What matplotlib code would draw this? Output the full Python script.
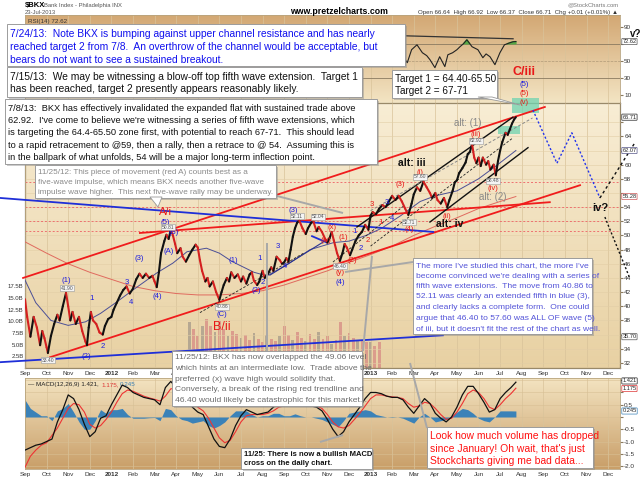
import numpy as np
import matplotlib
matplotlib.use("Agg")
import matplotlib.pyplot as plt
from matplotlib.colors import LinearSegmentedColormap
from matplotlib.collections import LineCollection
from matplotlib.patches import Rectangle, Polygon

plt.rcParams["font.family"] = ["Liberation Sans", "DejaVu Sans"]

W, H = 640, 479

# x positions are months since 1 Sep 2011
month_labels = ["Sep", "Oct", "Nov", "Dec", "2012", "Feb", "Mar", "Apr", "May", "Jun",
                "Jul", "Aug", "Sep", "Oct", "Nov", "Dec", "2013", "Feb", "Mar", "Apr",
                "May", "Jun", "Jul", "Aug", "Sep", "Oct", "Nov", "Dec"]

# --- BKX closes ---
price_m = [0.0, 0.1, 0.25, 0.4, 0.55, 0.7, 0.8, 0.9,
           1.0, 1.06, 1.2, 1.35, 1.5, 1.6, 1.75, 1.9,
           2.0, 2.1, 2.2, 2.35, 2.5, 2.65, 2.8, 2.87, 2.95,
           3.05, 3.15, 3.3, 3.45, 3.6, 3.7, 3.85,
           4.0, 4.1, 4.25, 4.4, 4.55, 4.7, 4.85,
           5.0, 5.15, 5.3, 5.45, 5.6, 5.75, 5.9,
           6.0, 6.1, 6.2, 6.3, 6.45, 6.55, 6.65, 6.75, 6.85, 6.95,
           7.05, 7.2, 7.3, 7.45, 7.6, 7.75, 7.9,
           8.0, 8.1, 8.2, 8.35, 8.45, 8.55, 8.7, 8.85,
           9.0, 9.1, 9.2, 9.35, 9.45, 9.55, 9.7, 9.85,
           10.0, 10.1, 10.25, 10.4, 10.5, 10.6, 10.75, 10.85,
           11.0, 11.1, 11.25, 11.4, 11.5, 11.65, 11.8, 11.9,
           12.0, 12.1, 12.2, 12.3, 12.4, 12.5, 12.6, 12.7, 12.85,
           13.0, 13.1, 13.25, 13.35, 13.5, 13.6, 13.75, 13.9,
           14.0, 14.1, 14.2, 14.3, 14.45, 14.58, 14.7, 14.8, 14.9,
           15.05, 15.15, 15.3, 15.45, 15.6, 15.75, 15.9,
           16.0, 16.1, 16.25, 16.4, 16.55, 16.7, 16.85,
           17.0, 17.15, 17.3, 17.45, 17.6, 17.75, 17.9,
           18.0, 18.15, 18.3, 18.45, 18.6, 18.75, 18.85,
           19.0, 19.1, 19.25, 19.4, 19.55, 19.65, 19.8, 19.9,
           20.0, 20.1, 20.25, 20.4, 20.5, 20.6, 20.7, 20.8, 20.9,
           21.0, 21.1, 21.2, 21.35, 21.45, 21.55, 21.7, 21.8, 21.9,
           22.0, 22.1, 22.25, 22.35, 22.45, 22.55, 22.65, 22.73]
price_close = [41.0, 38.5, 35.7, 38.5, 37.0, 34.5, 36.5, 35.5,
               34.2, 33.4, 35.8, 37.5, 38.8, 38.0, 40.0, 41.9,
               40.0, 38.0, 39.2, 37.5, 38.5, 36.5, 35.0, 34.5, 37.0,
               39.2, 38.0, 37.5, 36.3, 36.0, 37.2, 38.2,
               38.5, 39.5, 40.5, 41.5, 42.3, 42.8, 41.8,
               42.5, 43.8, 44.6, 44.0, 44.6, 44.0, 44.3,
               43.5, 42.7, 44.8, 47.5, 49.2, 50.1, 49.5, 50.8, 50.0, 48.8,
               47.5, 48.2, 47.0, 46.3, 47.2, 48.0, 48.7,
               48.3, 46.5, 45.0, 43.5, 44.0, 42.8, 43.5, 42.0,
               40.9, 42.0, 43.0, 44.0, 43.5, 44.8, 44.0, 44.5,
               43.5, 44.2, 43.2, 44.5, 44.8, 43.6, 43.0, 43.5,
               45.0, 44.0, 44.6, 45.5, 45.0, 47.0, 46.5, 46.0,
               46.2, 46.8, 46.3, 48.0, 49.8, 51.0, 51.8, 52.1, 51.0,
               50.2, 51.0, 51.8, 52.0, 50.6, 51.2, 50.5, 49.5,
               49.0, 49.6, 50.5, 49.3, 47.5, 46.4, 47.5, 48.8, 48.3,
               47.2, 48.0, 49.2, 50.0, 50.5, 51.5, 50.8,
               52.8, 53.3, 53.0, 53.8, 54.3, 54.0, 54.8,
               55.6, 55.0, 55.6, 54.8, 53.8, 52.9, 54.5,
               55.8, 56.8, 56.3, 57.6, 56.8, 56.0, 55.3,
               56.0, 55.0, 54.5, 55.3, 54.0, 55.0, 56.3, 57.5,
               57.8, 58.8, 59.5, 60.3, 61.5, 61.8, 62.9, 61.0, 60.2,
               61.0, 59.8, 61.0, 60.0, 60.5, 59.3, 60.0, 58.5, 60.5,
               62.0, 63.2, 64.5, 64.2, 65.0, 65.8, 66.4, 66.71]

ma50_m = [0, 0.5, 1.2, 2.0, 2.8, 3.5, 4.2, 5.0, 6.1, 6.85, 7.5, 8.4, 9.0, 9.6, 10.6,
          11.2, 12.1, 13.2, 14.3, 15.0, 15.8, 16.5, 17.4, 18.3, 19.0, 20.0, 21.0, 21.8, 22.73]
ma50 = [43.7, 40.5, 38.0, 37.3, 37.8, 39.0, 40.5, 42.3, 44.7, 46.1, 47.7, 48.2, 47.5, 46.3, 44.8,
        44.3, 45.8, 48.0, 49.0, 49.2, 50.0, 51.0, 52.8, 54.8, 55.6, 56.3, 58.0, 59.8, 62.0]
ma200_m = [0, 1, 2, 3, 4, 5, 6, 7, 8, 9, 10, 11, 12, 13, 14, 15, 16, 17, 18, 19, 20, 21, 22, 22.73]
ma200 = [49.1, 47.5, 46.0, 44.8, 43.8, 42.8, 42.2, 41.8, 41.6, 41.6, 41.8, 42.2, 43.0, 44.0,
         45.0, 46.2, 47.3, 48.5, 50.0, 51.3, 52.5, 53.8, 54.8, 55.5]

# volume (billions), only a window of data exists on this chart
vol_m = [7.6, 7.8, 8.0, 8.2, 8.4, 8.6, 8.8, 9.0, 9.2, 9.4, 9.6, 9.8, 10.0, 10.2, 10.4,
         10.6, 10.8, 11.0, 11.2, 11.4, 11.6, 11.8, 12.0, 12.2, 12.4, 12.6, 12.8, 13.0,
         13.2, 13.4, 13.6, 13.8, 14.0, 14.2, 14.4, 14.6, 14.8, 15.0, 15.2, 15.4, 15.6,
         15.8, 16.0, 16.2, 16.4]
vol_b = [9.8, 8.3, 6.9, 9.0, 10.5, 9.0, 7.7, 10.0, 8.3, 6.9, 8.0, 7.3, 6.5, 7.0, 6.0,
         7.5, 6.2, 5.5, 7.0, 6.3, 5.8, 6.8, 9.0, 7.0, 6.0, 7.8, 6.5, 5.8,
         7.2, 6.3, 7.7, 6.2, 6.8, 5.2, 6.0, 9.8, 6.9, 7.5, 6.4, 5.8, 6.0,
         5.5, 5.6, 4.8, 5.6]

# RSI(14), visible part only
rsi_m = [17.2, 17.36, 17.5, 17.7, 17.9, 18.15, 18.4, 18.6, 18.75, 18.98, 19.2, 19.44, 19.58,
         19.8, 20.0, 20.14, 20.3, 20.46, 20.7, 20.97, 21.2, 21.35, 21.53, 21.76, 21.99,
         22.2, 22.45, 22.6, 22.73]
rsi = [58, 63, 55, 47.6, 63, 68.8, 59.4, 56, 51.2, 41.8, 54.7, 43, 57,
       59.4, 63, 66.5, 70, 74.7, 66.5, 63, 53.5, 58, 54.7, 45.3, 59.4,
       68.8, 71.2, 72.4, 72.6]
rsi_trend = [(17.6, 79.4), (22.6, 75.9)]

# MACD(12,26,9) read on a quarter-month grid
macd_m = list(np.arange(0, 22.51, 0.25)) + [22.73]
macd_line = [-1.35, -1.25, -1.15, -1.1, -1.0, -0.9, -0.2, 0.3, 0.9, 0.75, 0.3, -0.3,
             -0.8, -0.6, -0.05, 0.05, 0.5, 0.9, 1.3, 1.2, 1.0, 0.9, 0.8, 0.75,
             0.7, 0.5, 1.2, 1.45, 1.2, 0.95, 0.75, 0.4, 0.2, 0.1, -0.4, -0.9,
             -1.2, -1.25, -0.9, -0.35, 0.05, 0.3, 0.2, 0.1, 0.15, 0.2, 0.4, 0.55,
             0.5, 0.55, 0.65, 0.55, 0.45, 0.45, 0.4, 0.25, -0.1, -0.5, -0.8, -0.6,
             -0.2, 0.1, 0.4, 0.75, 1.0, 1.0, 0.95, 0.85, 0.8, 0.8, 0.7, 0.4,
             0.15, 0.45, 0.75, 0.55, 0.15, -0.05, -0.2, 0.0, 0.4, 0.9, 1.25, 1.25,
             0.95, 0.6, 0.2, 0.3, 0.75, 1.0, 1.2, 1.42]
signal_line = [-2.05, -1.6, -1.35, -1.15, -1.05, -0.75, -0.45, -0.05, 0.35, 0.55, 0.5, 0.2,
               -0.3, -0.45, -0.35, -0.1, 0.2, 0.6, 0.95, 1.1, 1.05, 0.95, 0.85, 0.78,
               0.72, 0.65, 0.85, 1.15, 1.15, 1.05, 0.9, 0.65, 0.4, 0.25, -0.05, -0.45,
               -0.85, -1.05, -0.95, -0.6, -0.2, 0.05, 0.1, 0.1, 0.1, 0.15, 0.25, 0.4,
               0.45, 0.5, 0.52, 0.5, 0.45, 0.45, 0.45, 0.35, 0.1, -0.2, -0.4, -0.45,
               -0.35, -0.1, 0.15, 0.45, 0.75, 0.9, 0.9, 0.85, 0.82, 0.8, 0.75, 0.55,
               0.4, 0.45, 0.6, 0.55, 0.35, 0.1, -0.1, -0.05, 0.2, 0.55, 0.95, 1.1,
               1.0, 0.75, 0.4, 0.3, 0.5, 0.75, 0.95, 1.175]

# trendlines drawn on the chart: (month, price) end points
red_lines = [[(-0.09, 44.0), (24.07, 68.15)],
             [(1.16, 32.8), (25.7, 57.1)],
             [(5.32, 50.35), (24.3, 54.7)]]
blue_lines = [[(-1.16, 55.3), (18.9, 50.5)],
              [(-1.16, 32.1), (19.35, 35.9)],
              [(13.29, 49.9), (13.98, 49.0)]]
navy_lines = [[(11.34, 44.4), (13.98, 49.4)]]
black_lines = [[(15.37, 51.2), (22.59, 66.7)],
               [(18.75, 51.9), (23.29, 62.4)]]
dashed_lines = [[(8.1, 39.1), (12.9, 47.5)],
                [(14.26, 46.25), (17.59, 54.3)],
                [(16.0, 48.5), (22.6, 63.8)]]
gray_dashed = [[(16.0, 53.5), (23.5, 66.6)]]
levels = [57.6, 54.0, 52.11, 50.6]
target_zones = [(21.9, 22.9, 64.4, 65.5), (22.55, 23.8, 67.3, 69.4)]
proj_blue = [(23.52, 67.7), (24.63, 60.2), (25.32, 64.5), (26.62, 55.3)]
proj_up = [(26.62, 55.3), (28.24, 63.1)]
proj_down = [(26.85, 52.6), (28.0, 44.0)]

fig = plt.figure(figsize=(6.4, 4.79), dpi=100)


def axes_px(left, top, right, bottom, **kw):
    return fig.add_axes([left / W, 1 - bottom / H, (right - left) / W, (bottom - top) / H], **kw)


def gradient(a, top, bottom):
    cmap = LinearSegmentedColormap.from_list("g", [bottom, top])
    a.imshow(np.linspace(0, 1, 64).reshape(-1, 1), extent=[0, 1, 0, 1], transform=a.transAxes,
             cmap=cmap, aspect="auto", origin="lower", zorder=0)


def style_x(a, labels=True):
    a.set_xlim(0, 27.55)
    a.set_xticks(np.arange(28))
    a.grid(axis="x", color="#d9c39a", lw=0.5, zorder=1)
    a.tick_params(axis="x", length=0, pad=2.5, labelsize=4.6, labelcolor="#333333")
    if labels:
        a.set_xticklabels(month_labels)
        for t in a.get_xticklabels():
            if t.get_text() in ("2012", "2013"):
                t.set_fontweight("bold")
    else:
        a.set_xticklabels([])
    for s in a.spines.values():
        s.set_color("#b8a47e")
        s.set_linewidth(0.6)


def right_ticks(a, values, fmt, hidden=()):
    a.yaxis.tick_right()
    a.set_yticks(values)
    a.set_yticklabels(["" if v in hidden else fmt.format(v) for v in values])
    a.tick_params(axis="y", length=2, pad=1, labelsize=4.6, labelcolor="#333333",
                  color="#8a7a60")


# ---------------- RSI panel ----------------
ax_rsi = axes_px(25, 15, 620, 103)
gradient(ax_rsi, "#d3a874", "#f3e4c3")
style_x(ax_rsi, labels=False)
ax_rsi.set_ylim(0, 104)
right_ticks(ax_rsi, [10, 30, 50, 70, 90], "{:d}", hidden=(70,))
ax_rsi.axhline(70, color="#8a7a60", lw=0.6, zorder=2)
ax_rsi.axhline(30, color="#8a7a60", lw=0.6, zorder=2)
ax_rsi.axhline(50, color="#b09a78", lw=0.5, ls="--", zorder=2)
ax_rsi.plot(rsi_m, rsi, color="#222222", lw=0.8, zorder=4)
ax_rsi.fill_between(rsi_m, rsi, 70, where=np.array(rsi) > 70, interpolate=True,
                    color="#55aa44", zorder=3)
ax_rsi.plot(*zip(*rsi_trend), color="#333333", lw=0.9, zorder=4)
ax_rsi.text(0.005, 0.96, "RSI(14) 72.62", transform=ax_rsi.transAxes, fontsize=4.5,
            va="top", color="#333333")

# ---------------- price panel ----------------
ax_vol = axes_px(25, 103, 620, 368)
gradient(ax_vol, "#f8edd4", "#e8d1a3")
ax_vol.set_xlim(0, 27.55)
ax_vol.set_ylim(0, 56.7)
ax_vol.bar(vol_m, vol_b, width=0.13,
           color=["#d88f86" if i % 3 else "#a99d8c" for i in range(len(vol_b))],
           alpha=0.8, zorder=2)
ax_vol.set_xticks([])
ax_vol.set_yticks([2.5, 5, 7.5, 10, 12.5, 15, 17.5])
ax_vol.set_yticklabels(["2.5B", "5.0B", "7.5B", "10.0B", "12.5B", "15.0B", "17.5B"])
ax_vol.tick_params(axis="y", length=0, pad=1, labelsize=4.3, labelcolor="#333333")

ax = axes_px(25, 103, 620, 368)
ax.patch.set_alpha(0)
style_x(ax)
ax.set_ylim(31.28, 68.71)
right_ticks(ax, list(range(32, 67, 2)), "{:d}", hidden=(36, 56, 62, 66))
ax.grid(axis="y", color="#e2cea6", lw=0.4, zorder=1)

for lv in levels:
    ax.axhline(lv, color="#ee7070", lw=0.7, ls=(0, (2, 2)), zorder=2)

ax.plot(ma200_m, ma200, color="#e06a5e", lw=0.7, zorder=3)
ax.plot(ma50_m, ma50, color="#4b4f96", lw=0.7, zorder=3)

pts = np.column_stack([price_m, price_close])
segs = np.stack([pts[:-1], pts[1:]], axis=1)
seg_cols = ["#111111" if b >= a else "#d42020" for a, b in zip(price_close[:-1], price_close[1:])]
ax.add_collection(LineCollection(segs, colors=seg_cols, linewidths=1.5, zorder=6,
                                 capstyle="round"))

for x0, x1, y0, y1 in target_zones:
    ax.add_patch(Rectangle((x0, y0), x1 - x0, y1 - y0, facecolor="#6fd3b0", alpha=0.75,
                           edgecolor="none", zorder=4, clip_on=False))


def draw_lines(lines, **kw):
    for ln in lines:
        xs, ys = zip(*ln)
        ax.plot(xs, ys, clip_on=False, **kw)


draw_lines(red_lines, color="#f01c1c", lw=1.3, zorder=5)
draw_lines(blue_lines, color="#1f2fd8", lw=1.3, zorder=5)
draw_lines(navy_lines, color="#2a3390", lw=0.8, zorder=5)
draw_lines(black_lines, color="#111111", lw=1.0, zorder=5)
draw_lines(dashed_lines, color="#222222", lw=0.6, ls=(0, (3, 2)), zorder=5)
draw_lines(gray_dashed, color="#888888", lw=0.7, ls=(0, (3, 2)), zorder=5)
draw_lines([proj_blue], color="#2233ee", lw=1.0, ls=(0, (1.5, 1.5)), zorder=5)
draw_lines([proj_up], color="#111111", lw=1.0, ls=(0, (2, 2)), zorder=5)
draw_lines([proj_down], color="#111111", lw=1.0, ls=(0, (1.5, 1.5)), zorder=5)


def tag(a, y, s, ec="#555555", tc="#222222"):
    a.text(1.004, y, s, transform=a.get_yaxis_transform(), fontsize=4.1, va="center",
           ha="left", color=tc, zorder=8, clip_on=False,
           bbox=dict(boxstyle="round,pad=0.1", fc="white", ec=ec, lw=0.5))


tag(ax_rsi, rsi[-1], "72.62")
tag(ax, price_close[-1], "66.71", ec="#222222")
tag(ax, ma50[-1], "62.07", ec="#555588")
tag(ax, ma200[-1], "55.28", ec="#cc5555")
tag(ax, 35.7, "35.70")

# ---------------- MACD panel ----------------
ax_macd = axes_px(25, 378, 620, 469)
gradient(ax_macd, "#f3e3c0", "#c99f69")
style_x(ax_macd)
ax_macd.set_ylim(-2.12, 1.59)
right_ticks(ax_macd, [-2.0, -1.5, -1.0, -0.5, 0.0, 0.5, 1.0, 1.5], "{:.1f}",
            hidden=(1.5, 0.0, 1.0))
ax_macd.grid(axis="y", color="#d8bf94", lw=0.4, zorder=1)
hist = np.array(macd_line) - np.array(signal_line)
ax_macd.fill_between(macd_m, hist, 0, color="#3b82b8", lw=0, zorder=2)
ax_macd.plot(macd_m, signal_line, color="#ee3333", lw=0.8, zorder=3)
ax_macd.plot(macd_m, macd_line, color="#111111", lw=0.9, zorder=4)
ax_macd.text(0.005, 0.955, "\u2014 MACD(12,26,9) 1.421,", transform=ax_macd.transAxes,
             fontsize=4.5, va="top", color="#222222")
ax_macd.text(0.128, 0.955, "1.175,", transform=ax_macd.transAxes, fontsize=4.5,
             va="top", color="#dd3333")
ax_macd.text(0.160, 0.955, "0.245", transform=ax_macd.transAxes, fontsize=4.5,
             va="top", color="#3b82b8")
tag(ax_macd, 1.47, "1.421", ec="#222222")
tag(ax_macd, 1.16, "1.175", ec="#dd3333")
tag(ax_macd, hist[-1], "0.245", ec="#3b82b8")

# ---------------- overlay: headers, notes, wave labels ----------------
ov = fig.add_axes([0, 0, 1, 1], zorder=10)
ov.set_xlim(0, W)
ov.set_ylim(H, 0)
ov.axis("off")

ov.text(25, 5, r"\$BKX", fontsize=5.5, fontweight="bold", va="center")
ov.text(44, 5, "Bank Index - Philadelphia INX", fontsize=4.2, color="#555555", va="center")
ov.text(25, 12, "23-Jul-2013", fontsize=4.2, color="#555555", va="center")
ov.text(290, 11, "www.pretzelcharts.com", fontsize=6.3, fontweight="bold", va="center")
ov.text(618, 5, "@StockCharts.com", fontsize=4.2, color="#777777", va="center", ha="right")
ov.text(618, 12, "Open 66.64  High 66.92  Low 66.37  Close 66.71  Chg +0.01 (+0.01%) \u25b2",
        fontsize=4.4, color="#333333", va="center", ha="right")

# callout pointers
pointer_lines = [[(267, 243), (267, 352)], [(372, 256), (363, 351)], [(345, 272), (413, 262)],
                 [(277, 196), (343, 213)], [(410, 363), (427, 428)], [(320, 442), (343, 435)]]
for (xa, ya), (xb, yb) in pointer_lines:
    ov.plot([xa, xb], [ya, yb], color="#a8a8a8", lw=1.4, solid_capstyle="butt", zorder=1)
ov.add_patch(Polygon([(150, 197), (162, 197), (158, 207)], closed=True, fc="white",
                     ec="#999999", lw=0.6, zorder=3))
ov.add_patch(Polygon([(478, 97), (492, 97), (520, 105)], closed=True, fc="white",
                     ec="#999999", lw=0.6, zorder=3))


def note(x0, y0, x1, y1, lines, color, size, y_first, dy, weight="normal", xpad=3):
    ov.add_patch(Rectangle((x0 + 2, y0 + 2), x1 - x0, y1 - y0, fc="#8c8c8c", alpha=0.45,
                           lw=0, zorder=2))
    ov.add_patch(Rectangle((x0, y0), x1 - x0, y1 - y0, fc="white", ec="#9c9c9c", lw=0.7,
                           zorder=2.5))
    for i, ln in enumerate(lines):
        ov.text(x0 + xpad, y0 + y_first + i * dy, ln, color=color, fontsize=size,
                fontweight=weight, va="center", ha="left", zorder=4)


note(7, 24, 405, 66,
     ["7/24/13:  Note BKX is bumping against upper channel resistance and has nearly",
      "reached target 2 from 7/8.  An overthrow of the channel would be acceptable, but",
      "bears do not want to see a sustained breakout."],
     "#1010ee", 7.4, 9.5, 13)
note(7, 67, 362, 97,
     ["7/15/13:  We may be witnessing a blow-off top fifth wave extension.  Target 1",
      "has been reached, target 2 presently appears reasonably likely."],
     "#111111", 7.4, 9.5, 12.5)
note(5, 99, 377, 164,
     ["7/8/13:  BKX has effectively invalidated the expanded flat with sustained trade above",
      "62.92.  I've come to believe we're witnessing a series of fifth wave extensions, which",
      "is targeting the 64.4-65.50 zone first, with potential to reach 67-71.  This should lead",
      "to a rapid retracement to @59, then a rally, then a retrace to @ 54.  Assuming this is",
      "in the ballpark of what unfolds, 54 will be a major long-term inflection point."],
     "#111111", 6.7, 9.5, 12.2)
note(35, 165, 276, 198,
     ["11/25/12: This piece of movement (red A) counts best as a",
      "five-wave impulse, which means BKX needs another five-wave",
      "impulse wave higher.  This next five-wave rally may be underway."],
     "#8a8a8a", 5.9, 7.5, 10)
note(392, 70, 497, 98,
     ["Target 1 = 64.40-65.50", "Target 2 = 67-71"],
     "#111111", 7.2, 8.5, 12.5)
note(413, 258, 592, 334,
     ["The more I've studied this chart, the more I've",
      "become convinced we're dealing with a series of",
      "fifth wave extensions.  The move from 40.86 to",
      "52.11 was clearly an extended fifth in blue (3),",
      "and clearly lacks a complete form.  One could",
      "argue that 46.40 to 57.60 was ALL OF wave (5)",
      "of iii, but it doesn't fit the rest of the chart as well."],
     "#5353d8", 6.1, 7.5, 10.5)
note(172, 351, 362, 406,
     ["11/25/12: BKX has now overlapped the 49.06 level",
      "which hints at an intermediate low.  Trade above the",
      "preferred (x) wave high would solidify that.",
      "Conversely, a break of the rising red trendline and",
      "46.40 would likely be catastrophic for this market..."],
     "#6c6c6c", 6.1, 6.5, 10.8)
note(241, 448, 372, 469,
     ["11/25: There is now a bullish MACD", "cross on the daily chart."],
     "#111111", 5.5, 6, 9.5, weight="bold")
note(427, 427, 593, 468,
     ["Look how much volume has dropped", "since January! Oh wait, that's just",
      "Stockcharts giving me bad data..."],
     "#ff1010", 7.5, 9, 12.5)

BLUE, RED = "#1c1ce0", "#e81818"
wave_labels = [
    ("(1)", 66, 281, BLUE), ("1", 92, 298, BLUE), ("2", 103, 347, BLUE), ("(2)", 86, 357, BLUE),
    ("3", 127, 283, BLUE), ("4", 131, 302, BLUE), ("(3)", 139, 258, BLUE), ("(4)", 157, 296, BLUE),
    ("(A)", 169, 251, BLUE), ("(B)", 174, 232, BLUE), ("(5)", 165, 222, BLUE),
    ("(C)", 222, 315, BLUE), ("(1)", 233, 261, BLUE), ("(2)", 256, 290, BLUE),
    ("1", 260, 259, BLUE), ("2", 263, 283, BLUE), ("3", 278, 246, BLUE), ("4", 285, 266, BLUE),
    ("(3)", 293, 211, BLUE), ("(w)", 326, 240, RED), ("(x)", 332, 227, RED),
    ("(y)", 340, 273, RED), ("(4)", 340, 283, BLUE), ("(1)", 343, 237, RED),
    ("(2)", 352, 260, RED), ("1", 355, 231, BLUE), ("2", 361, 248, BLUE), ("3", 372, 205, RED),
    ("2", 368, 240, RED), ("1", 381, 222, RED), ("3", 387, 202, BLUE), ("4", 392, 219, BLUE),
    ("(3)", 400, 184, RED), ("(4)", 409, 229, RED), ("(i)", 420, 172, RED),
    ("(ii)", 447, 216, RED), ("(iii)", 476, 134, RED), ("(iv)", 493, 188, RED),
    ("(v)", 524, 102, RED), ("(5)", 524, 93, RED), ("(5)", 524, 84, BLUE),
]
for s, x, y, c in wave_labels:
    ov.text(x, y, s, color=c, fontsize=5.6, ha="center", va="center", zorder=1)

big_labels = [
    ("A/i", 165, 212, RED, 8, "normal"), ("B/ii", 222, 327, RED, 9, "normal"),
    ("C/iii", 524, 72, RED, 9, "bold"), ("alt: (1)", 468, 123, "#888888", 7, "normal"),
    ("alt: iii", 412, 163, "#111111", 7.5, "bold"), ("alt: (2)", 493, 197, "#888888", 7, "normal"),
    ("alt: iv", 450, 224, "#111111", 7.5, "bold"), ("iv?", 600, 208, "#111111", 8, "bold"),
]
for s, x, y, c, fs, fw in big_labels:
    ov.text(x, y, s, color=c, fontsize=fs, fontweight=fw, ha="center", va="center", zorder=1)
ov.text(630, 33.5, "v?", color="#111111", fontsize=7, fontweight="bold", ha="left",
        va="center", zorder=1)

price_tags = [("40.86", 222, 307), ("46.40", 340, 266), ("52.11", 297, 216), ("52.04", 318, 217),
              ("52.71", 409, 222), ("57.60", 420, 177), ("62.92", 476, 141), ("58.48", 493, 181),
              ("33.40", 48, 360), ("41.90", 67, 288), ("50.81", 168, 227)]
for s, x, y in price_tags:
    ov.text(x, y, s, fontsize=3.6, color="#555555", ha="center", va="center", zorder=1,
            bbox=dict(boxstyle="square,pad=0.12", fc="#f4f4f4", ec="#999999", lw=0.4))

fig.savefig("out.png", dpi=100)
